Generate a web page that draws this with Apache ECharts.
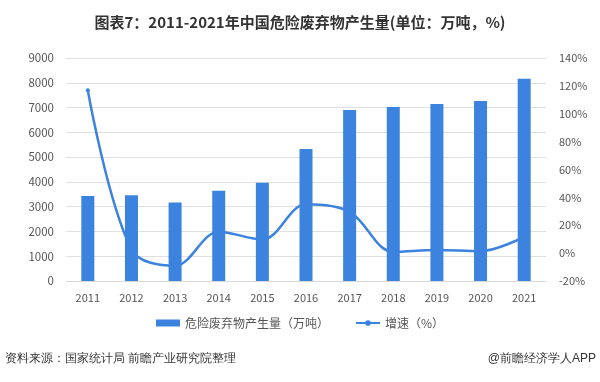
<!DOCTYPE html>
<html><head><meta charset="utf-8">
<script src="https://cdn.jsdelivr.net/npm/echarts@6/dist/echarts.min.js"></script>
<style>html,body{margin:0;padding:0;background:#fff}#c{width:600px;height:382px}</style>
</head><body><div id="c"></div>
<script>
const years = ['2011','2012','2013','2014','2015','2016','2017','2018','2019','2020','2021'];
const waste = [3430, 3460, 3170, 3640, 3970, 5330, 6900, 7020, 7140, 7260, 8160];
const growth = [116.8, 2.5, -9.0, 15.3, 9.8, 35.0, 29.6, 0.9, 2.2, 1.4, 11.7];
const leftTicks = [0, 9000, 1000];
const rightTicks = [-20, 140, 20];

const chart = echarts.init(document.getElementById('c'), null, {renderer:'canvas'});
const blue = '#3C83DF';
const font = '"Microsoft YaHei","Noto Sans CJK SC",sans-serif';
chart.setOption({
  backgroundColor:'#fff',
  animation:false,
  title:{text:'图表7：2011-2021年中国危险废弃物产生量(单位：万吨，%)', left:'center', top:10,
    textStyle:{fontSize:15, fontWeight:'bold', color:'#333', fontFamily:font}},
  legend:{bottom:48, left:'center', itemGap:26, itemWidth:24, itemHeight:7,
    textStyle:{fontSize:12, color:'#555', fontFamily:font},
    data:[{name:'危险废弃物产生量（万吨）', icon:'rect'},{name:'增速（%）'}]},
  grid:{left:66, right:54, top:58, bottom:101},
  xAxis:{type:'category', data:years,
    axisLine:{lineStyle:{color:'#d9d9d9'}}, axisTick:{show:false},
    axisLabel:{color:'#555', fontSize:11, margin:11, fontFamily:font}},
  yAxis:[
    {type:'value', min:leftTicks[0], max:leftTicks[1], interval:leftTicks[2],
     axisLine:{show:false}, axisTick:{show:false},
     splitLine:{lineStyle:{color:'#e0e0e0'}},
     axisLabel:{color:'#555', fontSize:11.5, margin:12, fontFamily:font, formatter:v=>String(v)}},
    {type:'value', min:rightTicks[0], max:rightTicks[1], interval:rightTicks[2],
     axisLine:{show:false}, axisTick:{show:false}, splitLine:{show:false},
     axisLabel:{color:'#555', fontSize:11, margin:13, formatter:'{value}%', fontFamily:font}}
  ],
  series:[
    {name:'危险废弃物产生量（万吨）', type:'bar', data:waste, barWidth:13,
     itemStyle:{color:blue}},
    {name:'增速（%）', type:'line', yAxisIndex:1, data:growth, smooth:0.35,
     symbol:'circle', symbolSize:4, showSymbol:true,
     lineStyle:{color:blue, width:2.5}, itemStyle:{color:blue}}
  ],
  graphic:[
    {type:'text', left:5, top:353, style:{text:'资料来源：国家统计局 前瞻产业研究院整理', fontSize:12, fill:'#333', font:'12px '+font}},
    {type:'text', right:4, top:353, style:{text:'@前瞻经济学人APP', fontSize:12, fill:'#333', font:'12px '+font}}
  ]
});
</script></body></html>
